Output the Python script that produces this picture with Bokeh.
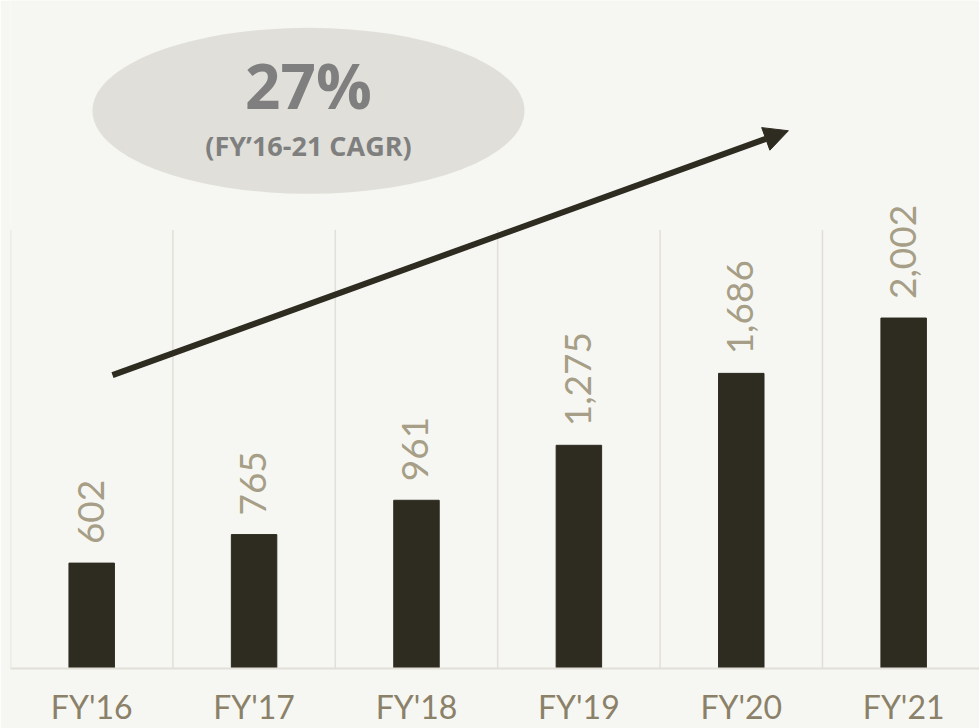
from bokeh.plotting import figure
from bokeh.models import (ColumnDataSource, Range1d, FixedTicker, Arrow, NormalHead,
                          Label)
from bokeh.embed import file_html
from bokeh.resources import INLINE
from bokeh.core.properties import value
import math

# Revenue by fiscal year
years = ["FY'16", "FY'17", "FY'18", "FY'19", "FY'20", "FY'21"]
revenue = [602, 765, 961, 1275, 1686, 2002]
value_labels = ["602", "765", "961", "1,275", "1,686", "2,002"]
cagr_text = "27%"
cagr_caption = "(FY\u201916-21 CAGR)"

BG = "#f6f7f2"
BAR = "#2e2b20"
GRID = "#e2dfd8"

xs = [i + 0.5 for i in range(len(years))]
src = ColumnDataSource(dict(x=xs, top=revenue, label=value_labels))

p = figure(width=979, height=728, output_backend="svg", toolbar_location=None,
           x_range=Range1d(0, 5.967), y_range=Range1d(0, 3816),
           y_axis_location=None, min_border_left=10, min_border_right=0,
           min_border_top=0, min_border_bottom=58,
           background_fill_color=BG, border_fill_color=BG, outline_line_color=None)
p.xgrid.visible = False
p.ygrid.visible = False

# category separators, only up to the top of the value scale
bounds = list(range(len(years)))
p.segment(x0=bounds, y0=[0] * len(bounds), x1=bounds, y1=[2505] * len(bounds),
          line_color=GRID, line_width=1.5)

p.vbar(x="x", top="top", width=0.28, source=src, fill_color=BAR, line_color=BAR)

p.text(x="x", y="top", text="label", source=src, angle=math.pi / 2,
       x_offset=-1, y_offset=-19, text_align="left", text_baseline="middle",
       text_color="#a69e86", text_font=value("Lato"), text_font_size="37px")

ax = p.xaxis[0]
ax.ticker = FixedTicker(ticks=xs)
ax.major_label_overrides = {x: y for x, y in zip(xs, years)}
ax.major_label_text_font = "Lato"
ax.major_label_text_font_size = "32px"
ax.major_label_text_color = "#8b8169"
ax.major_label_standoff = 12
ax.major_tick_line_color = None
ax.minor_tick_line_color = None
ax.axis_line_color = GRID
ax.axis_line_width = 2

# growth arrow
p.add_layout(Arrow(x_start=0.628, y_start=1676, x_end=4.79, y_end=3072,
                   line_color=BAR, line_width=6,
                   end=NormalHead(size=24, fill_color=BAR, line_color=BAR)))

# CAGR bubble
p.ellipse(x=[1.835], y=[3186], width=432, height=166, width_units="screen",
          height_units="screen", fill_color="#e0dfd9", line_color=None)
p.add_layout(Label(x=1.835, y=3186, y_offset=26, text=cagr_text, text_align="center",
                   text_baseline="middle", text_font="Open Sans", text_font_style="bold",
                   text_font_size="62px", text_color="#7f7f7f"))
p.add_layout(Label(x=1.835, y=3186, y_offset=-35, text=cagr_caption, text_align="center",
                   text_baseline="middle", text_font="Open Sans", text_font_style="bold",
                   text_font_size="27px", text_color="#7f7f7f"))

open("out.html", "w").write(file_html(p, INLINE))
